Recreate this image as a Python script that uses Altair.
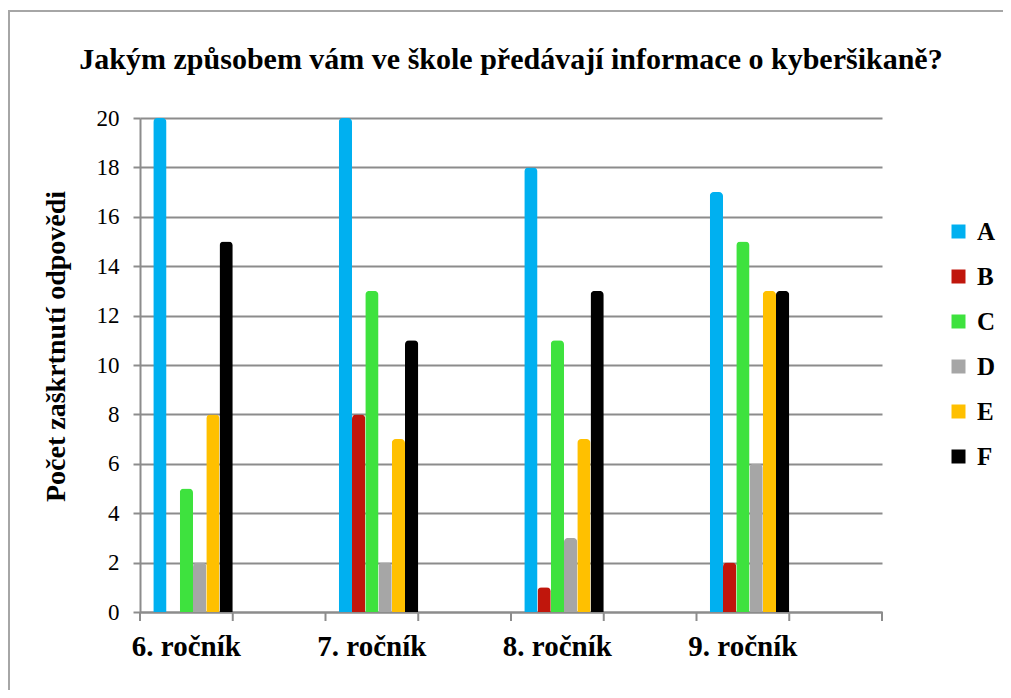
import altair as alt
import pandas as pd

grades = ["6. ročník", "7. ročník", "8. ročník", "9. ročník"]
series = ["A", "B", "C", "D", "E", "F"]
values_A = [20, 20, 18, 17]
values_B = [0, 8, 1, 2]
values_C = [5, 13, 11, 15]
values_D = [2, 2, 3, 6]
values_E = [8, 7, 7, 13]
values_F = [15, 11, 13, 13]
colors = ["#00B0F0", "#C0160C", "#3EE23E", "#A6A6A6", "#FFC000", "#000000"]
chart_title = "Jakým způsobem vám ve škole předávají informace o kyberšikaně?"

all_vals = [values_A, values_B, values_C, values_D, values_E, values_F]
rows = []
for s, vals in zip(series, all_vals):
    for g, v in zip(grades, vals):
        rows.append({"grade": g, "series": s, "value": v})
df = pd.DataFrame(rows)

# Excel-style layout: each grade occupies one band, followed by an empty band
x_domain = []
for i, g in enumerate(grades):
    x_domain += [g, "_gap%d" % i]

# empty leading slot in each group, as in the original
offset_domain = ["_lead"] + series

serif = "Liberation Serif"
axis_gray = "#8c8c8c"
W, H = 742, 494

x_scale = alt.Scale(domain=x_domain, paddingInner=0, paddingOuter=0)

bars = alt.Chart(df).mark_bar(
    cornerRadiusTopLeft=4, cornerRadiusTopRight=4
).encode(
    x=alt.X(
        "grade:N",
        scale=x_scale,
        axis=alt.Axis(
            title=None,
            labelExpr="indexof(datum.value, '_gap') >= 0 ? '' : datum.value",
            labelAngle=0,
            labelFont=serif,
            labelFontSize=29,
            labelFontWeight="bold",
            labelColor="#000000",
            labelPadding=20,
            ticks=False,
            domainColor=axis_gray,
            domainWidth=2,
            grid=False,
        ),
    ),
    xOffset=alt.XOffset(
        "series:N",
        scale=alt.Scale(domain=offset_domain, paddingInner=0, paddingOuter=0),
    ),
    y=alt.Y(
        "value:Q",
        scale=alt.Scale(domain=[0, 20], nice=False),
        axis=alt.Axis(
            title="Počet zaškrtnutí odpovědi",
            titleFont=serif,
            titleFontSize=28,
            titleFontWeight="bold",
            titleColor="#000000",
            titlePadding=26,
            titleY=228,
            values=list(range(0, 21, 2)),
            labelFont=serif,
            labelFontSize=23,
            labelColor="#000000",
            labelPadding=14,
            tickSize=7,
            tickColor=axis_gray,
            tickWidth=2,
            domainColor=axis_gray,
            domainWidth=2,
            grid=True,
            gridColor=axis_gray,
            gridWidth=2,
        ),
    ),
    color=alt.Color(
        "series:N",
        scale=alt.Scale(domain=series, range=colors),
        legend=alt.Legend(
            title=None,
            orient="none",
            legendX=806,
            legendY=101,
            symbolType="square",
            symbolSize=196,
            labelFont=serif,
            labelFontSize=25,
            labelFontWeight="bold",
            labelColor="#000000",
            rowPadding=19,
            labelOffset=6,
        ),
    ),
)

# category-axis ticks at the band boundaries (Excel style)
tick_df = pd.DataFrame({"grade": x_domain})
ticks_start = alt.Chart(tick_df).mark_rule(color=axis_gray, strokeWidth=2).encode(
    x=alt.X("grade:N", scale=x_scale, bandPosition=0),
    y=alt.value(H),
    y2=alt.value(H + 9),
)
ticks_end = alt.Chart(pd.DataFrame({"grade": [x_domain[-1]]})).mark_rule(
    color=axis_gray, strokeWidth=2
).encode(
    x=alt.X("grade:N", scale=x_scale, bandPosition=1),
    y=alt.value(H),
    y2=alt.value(H + 9),
)

# chart title as a text mark (the frame lines below would push a regular title off-canvas)
title_mark = alt.Chart(pd.DataFrame({"t": [chart_title]})).mark_text(
    font=serif, fontSize=30, fontWeight="bold", color="#000000",
    align="center", baseline="middle",
).encode(text="t:N", x=alt.value(W / 2), y=alt.value(-58))

# outer chart frame (top and left edges, as in the source image)
frame_top = alt.Chart(tick_df).mark_rule(color="#a6a6a6", strokeWidth=2).encode(
    x=alt.value(-132), x2=alt.value(W + 140), y=alt.value(-107)
)
frame_left = alt.Chart(tick_df).mark_rule(color="#a6a6a6", strokeWidth=2).encode(
    x=alt.value(-131), y=alt.value(-107), y2=alt.value(H + 90)
)

chart = alt.layer(
    bars, ticks_start, ticks_end, title_mark, frame_top, frame_left
).properties(
    width=W,
    height=H,
    autosize=alt.AutoSizeParams(type="none"),
    padding={"left": 132, "top": 110, "right": 121, "bottom": 78},
).configure_view(stroke=None)

chart.save("out.html", embed_options={"renderer": "svg", "actions": False})
